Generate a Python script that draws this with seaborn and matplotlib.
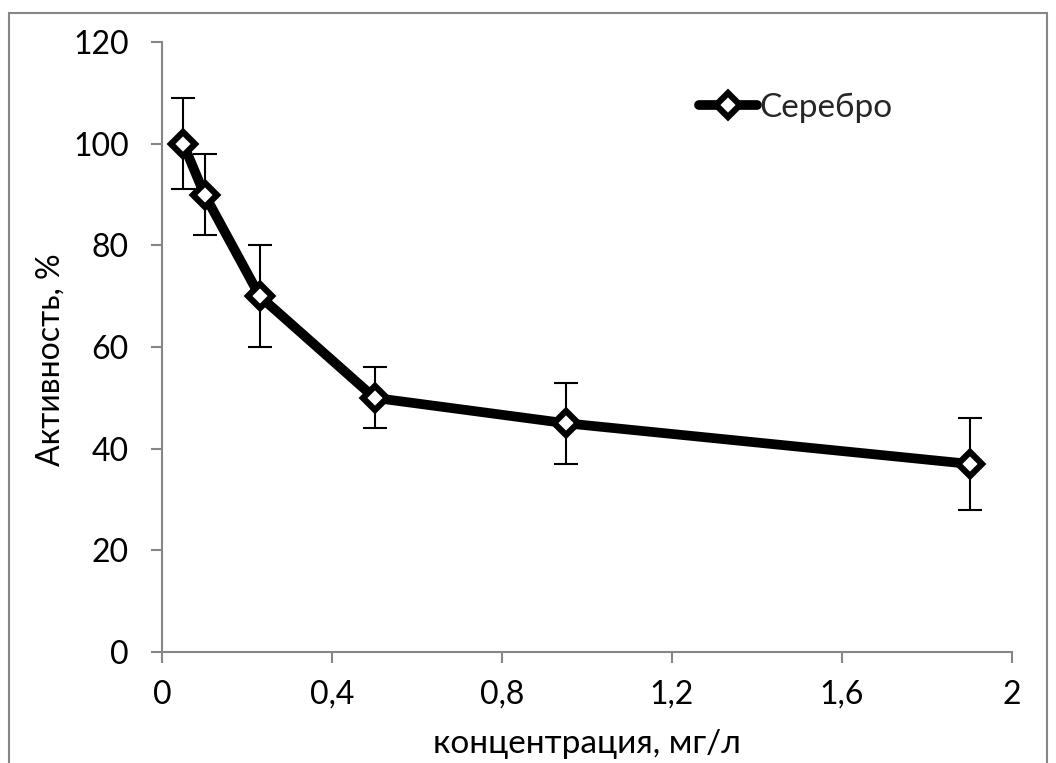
import matplotlib
matplotlib.use("Agg")
import matplotlib.pyplot as plt
import seaborn as sns
import pandas as pd
from matplotlib.patches import Rectangle
from matplotlib.ticker import FuncFormatter

# Silver concentration vs. activity
concentration = [0.05, 0.1, 0.23, 0.5, 0.95, 1.9]
activity = [100, 90, 70, 50, 45, 37]
activity_err = [9, 8, 10, 6, 8, 9]
series_name = "Серебро"
x_label = "концентрация, мг/л"
y_label = "Активность, %"
x_ticks = [0, 0.4, 0.8, 1.2, 1.6, 2.0]
y_ticks = [0, 20, 40, 60, 80, 100, 120]

sns.set_theme(style="white")
plt.rcParams["font.family"] = ["Lato", "DejaVu Sans"]

df = pd.DataFrame({"x": concentration, "y": activity, "series": series_name})

fig = plt.figure(figsize=(10.56, 7.63), dpi=100)
ax = fig.add_axes([162 / 1056, 1 - 652 / 763, 850 / 1056, 610 / 763])

spine_color = "#868686"

# error bars sit underneath the line and markers
ax.errorbar(concentration, activity, yerr=activity_err, fmt="none",
            ecolor="black", elinewidth=1.5, capsize=8.5, capthick=1.5, zorder=2)

sns.lineplot(data=df, x="x", y="y", hue="series", palette=["black"],
             marker="D", markersize=12, markerfacecolor="white",
             markeredgecolor="black", markeredgewidth=4.5,
             linewidth=7, ax=ax, zorder=3)

ax.set_xlim(0, 2)
ax.set_ylim(0, 120)
ax.set_xticks(x_ticks)
ax.set_yticks(y_ticks)
ax.xaxis.set_major_formatter(FuncFormatter(
    lambda v, p: ("%g" % round(v, 2)).replace(".", ",")))

for side in ["top", "right"]:
    ax.spines[side].set_visible(False)
for side in ["left", "bottom"]:
    ax.spines[side].set_color(spine_color)
    ax.spines[side].set_linewidth(1.5)

ax.tick_params(axis="both", which="major", direction="out", length=8,
               width=1.5, color=spine_color, labelsize=23, labelcolor="black")
ax.tick_params(axis="y", pad=16, left=True)
ax.tick_params(axis="x", pad=12, bottom=True)

ax.set_xlabel(x_label, fontsize=24, color="black", labelpad=14)
ax.set_ylabel(y_label, fontsize=23, color="black")
ax.yaxis.set_label_coords(-0.113, 0.48)

leg = ax.legend(loc="center left", bbox_to_anchor=(699 / 1056, 1 - 108 / 763),
                bbox_transform=fig.transFigure, frameon=False, fontsize=24,
                handlelength=1.75, handletextpad=0.05, borderpad=0,
                borderaxespad=0)

# chart frame
fig.patches.append(Rectangle((9 / 1056, -0.05), 1038 / 1056, 1 - 13 / 763 + 0.05,
                             transform=fig.transFigure, fill=False,
                             edgecolor=spine_color, linewidth=1.5))

fig.savefig("out.png", dpi=100)
